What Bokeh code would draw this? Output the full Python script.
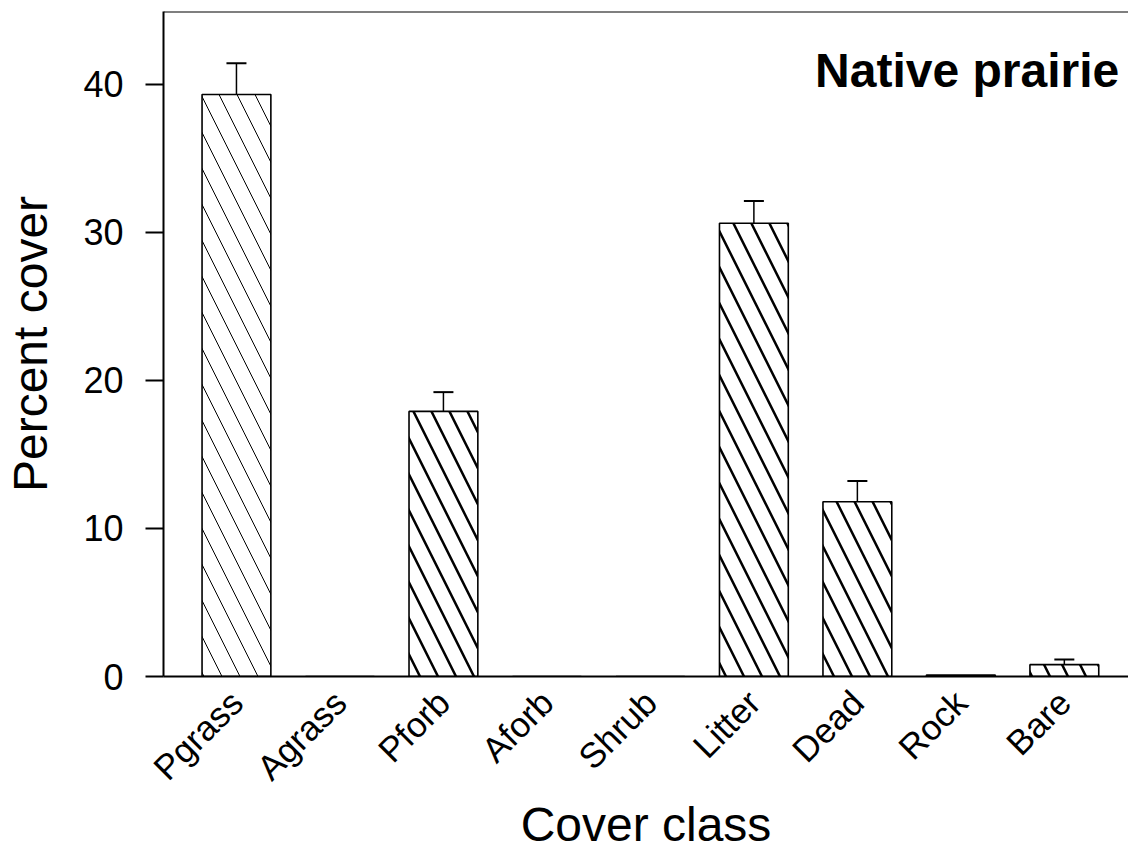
from math import pi

from bokeh.embed import file_html
from bokeh.models import (ColumnDataSource, FixedTicker, Label, Range1d, Span,
                          TeeHead, Whisker)
from bokeh.plotting import figure
from bokeh.resources import INLINE

# Mean percent cover per cover class with standard error (upper whisker only)
categories = ["Pgrass", "Agrass", "Pforb", "Aforb", "Shrub", "Litter", "Dead", "Rock", "Bare"]
means = [39.3, 0.0, 17.9, 0.0, 0.0, 30.6, 11.8, 0.1, 0.8]
errors = [2.1, 0.0, 1.3, 0.0, 0.0, 1.5, 1.4, 0.0, 0.35]
y_ticks = [0, 10, 20, 30, 40]

FONT = "Liberation Sans"

xs = list(range(len(categories)))
bars = ColumnDataSource(dict(
    x=xs,
    top=means,
    weight=[1.0 if c == "Pgrass" else 2.5 for c in categories],
))

err_idx = [i for i, e in enumerate(errors) if e > 0]
err_src = ColumnDataSource(dict(
    x=[xs[i] for i in err_idx],
    lower=[means[i] for i in err_idx],
    upper=[means[i] + errors[i] for i in err_idx],
))

p = figure(
    width=1128, height=854,
    x_range=Range1d(-0.705, 8.62), y_range=Range1d(0, 44.9),
    output_backend="svg", toolbar_location=None,
    min_border_left=163, min_border_right=0, min_border_top=11, min_border_bottom=176,
)
p.background_fill_color = "white"
p.border_fill_color = "white"
p.outline_line_color = None
p.xgrid.visible = False
p.ygrid.visible = False

p.vbar(x="x", top="top", width=0.665, source=bars,
       fill_color="white", line_color="black", line_width=1.6,
       hatch_pattern="\\", hatch_scale=36, hatch_weight="weight", hatch_color="black")

p.add_layout(Whisker(base="x", lower="lower", upper="upper", source=err_src,
                     dimension="height", line_color="black", line_width=1.5,
                     lower_head=None,
                     upper_head=TeeHead(size=20, line_width=2, line_color="black")))

# top border of the frame
p.add_layout(Span(location=44.9, dimension="width", line_color="black", line_width=2))

# y axis
p.yaxis.ticker = FixedTicker(ticks=y_ticks)
p.yaxis.axis_line_width = 2
p.yaxis.major_tick_line_width = 2
p.yaxis.major_tick_out = 18
p.yaxis.major_tick_in = 0
p.yaxis.minor_tick_line_color = None
p.yaxis.major_label_text_font = FONT
p.yaxis.major_label_text_font_size = "36px"
p.yaxis.major_label_text_color = "black"
p.yaxis.major_label_standoff = 22
p.yaxis.axis_label = "Percent cover"
p.yaxis.axis_label_text_font = FONT
p.yaxis.axis_label_text_font_size = "48px"
p.yaxis.axis_label_text_font_style = "normal"
p.yaxis.axis_label_text_color = "black"
p.yaxis.axis_label_standoff = 23

# x axis (categories)
p.xaxis.ticker = FixedTicker(ticks=xs)
p.xaxis.major_label_overrides = {i: c for i, c in zip(xs, categories)}
p.xaxis.axis_line_width = 2
p.xaxis.major_tick_line_color = None
p.xaxis.minor_tick_line_color = None
p.xaxis.major_label_orientation = pi / 4
p.xaxis.major_label_text_font = FONT
p.xaxis.major_label_text_font_size = "35px"
p.xaxis.major_label_text_color = "black"
p.xaxis.major_label_standoff = 14
p.xaxis.axis_label = "Cover class"
p.xaxis.axis_label_text_font = FONT
p.xaxis.axis_label_text_font_size = "48px"
p.xaxis.axis_label_text_font_style = "normal"
p.xaxis.axis_label_text_color = "black"
p.xaxis.axis_label_standoff = -6

p.add_layout(Label(x=8.53, y=40.95, text="Native prairie", text_align="right",
                   text_baseline="alphabetic", text_font=FONT,
                   text_font_size="48px", text_font_style="bold", text_color="black"))

open("out.html", "w").write(file_html(p, INLINE))
